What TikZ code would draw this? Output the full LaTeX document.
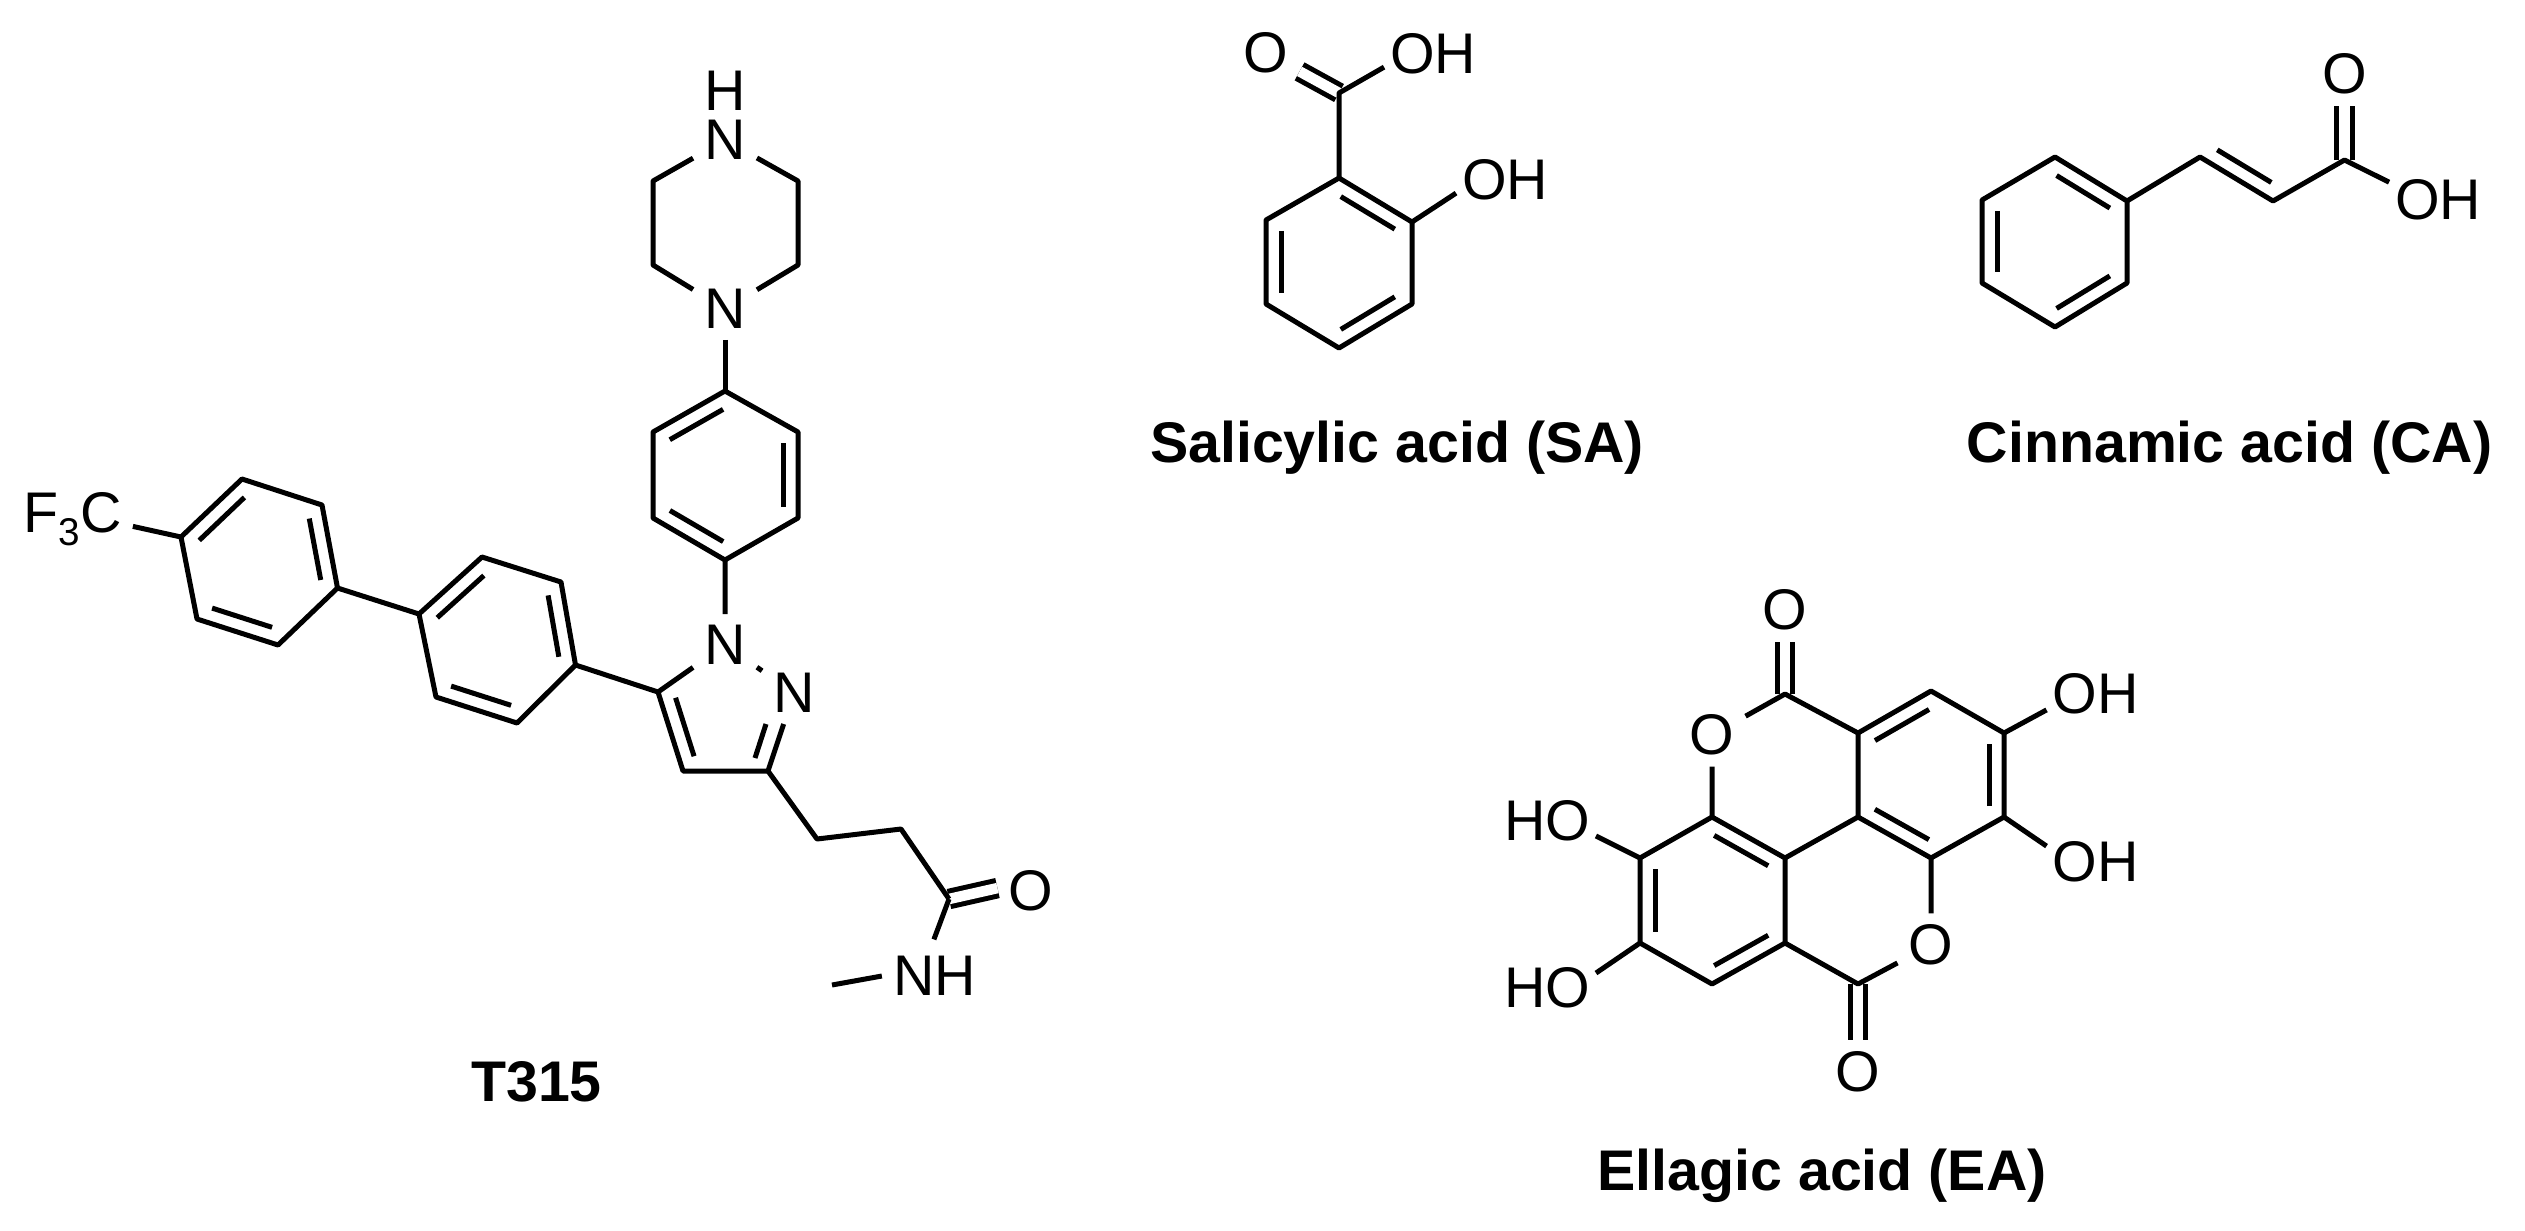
\documentclass[tikz,border=0pt]{standalone}
\usepackage{fontspec}
\setmainfont{Liberation Sans}
\usetikzlibrary{calc}
\tikzset{
    bond/.style={line width=0.05cm, line join=round},
    dbond/.style={line width=0.05cm, double, double distance=0.105cm},
    atom/.style={inner sep=3pt, font=\fontsize{16.3}{18}\selectfont},
    group/.style={atom, inner sep=1.5pt},
    caption/.style={inner sep=0pt, anchor=base, font=\fontsize{16.3}{18}\selectfont\bfseries}
}
\begin{document}
\begin{tikzpicture}[x=0.01cm, y=-0.01cm]
    \useasboundingbox (0,0) rectangle (2525,1230);
    \node[atom, inner sep=0pt] (th) at (725,91) {H};
    \node[atom, inner ysep=0pt] (tn1) at (725,140) {N};
    \node[atom] (tn2) at (725,309) {N};
    \node[atom] (tn3) at (725,645) {N};
    \node[atom] (tn4) at (794,693) {N};
    \node[atom] (to) at (1031,891) {O};
    \node[atom] (tnh) at (934.5,976) {NH};
    \node[atom, anchor=base west, xshift=-3pt] (tf) at (23,532) {F\raisebox{-0.45ex}{\fontsize{11}{12}\selectfont 3}C};
    \coordinate (tm) at (832,985);
    \coordinate (p1) at (653,181);
    \coordinate (p2) at (653,265);
    \coordinate (p3) at (798,265);
    \coordinate (p4) at (798,181);
    \coordinate (c1) at (725,391);
    \coordinate (c2) at (653,432);
    \coordinate (c3) at (653,518);
    \coordinate (c4) at (725,560);
    \coordinate (c5) at (798,518);
    \coordinate (c6) at (798,432);
    \coordinate (a1) at (242,479);
    \coordinate (a2) at (181,537);
    \coordinate (a3) at (197,619);
    \coordinate (a4) at (278,645);
    \coordinate (a5) at (337.5,588);
    \coordinate (a6) at (322,505);
    \coordinate (b1) at (482,557);
    \coordinate (b2) at (419,614);
    \coordinate (b3) at (436,697);
    \coordinate (b4) at (517,723);
    \coordinate (b5) at (575.5,665);
    \coordinate (b6) at (561,582);
    \coordinate (z1) at (658,692);
    \coordinate (z2) at (683,771);
    \coordinate (z3) at (768,771);
    \coordinate (z4) at (766,724);
    \coordinate (z5) at (755,758);
    \coordinate (e1) at (817,839);
    \coordinate (e2) at (901,829);
    \coordinate (e3) at (949,899);
    \draw[dbond] (e3) -- (to.175);
    \draw[bond] (tn1) -- (p1) -- (p2) -- (tn2) -- (p3) -- (p4) -- (tn1);
    \draw[bond] (c1) -- (c2) -- (c3) -- (c4) -- (c5) -- (c6) -- cycle;
    \draw[bond] (tn2) -- (c1);
    \draw[bond] (c4) -- (tn3) -- (z1) -- (z2) -- (z3) -- (tn4);
    \draw[bond] (tn3) -- (tn4);
    \draw[bond] (a1) -- (a2) -- (a3) -- (a4) -- (a5) -- (a6) -- cycle;
    \draw[bond] (tf.-7) -- (a2);
    \draw[bond] (b1) -- (b2) -- (b3) -- (b4) -- (b5) -- (b6) -- cycle;
    \draw[bond] (a5) -- (b2);
    \draw[bond] (b5) -- (z1);
    \draw[bond] (z3) -- (e1) -- (e2) -- (e3);
    \draw[bond, shorten >=0.06cm] (e3) -- (tnh.95);
    \draw[bond] (tm) -- (tnh.west);
    \draw[bond] (z4) -- (z5);
    \node[caption] (tt) at (536.5,1101.5) {T315};

    \node[atom] (so1) at (1266,53) {O};
    \node[group] (so2) at (1433,54) {OH};
    \node[group] (so3) at (1505,180) {OH};
    \coordinate (s0) at (1339,93);
    \coordinate (s1) at (1339,178);
    \coordinate (s2) at (1266,220);
    \coordinate (s3) at (1266,304);
    \coordinate (s4) at (1339,348);
    \coordinate (s5) at (1412,304);
    \coordinate (s6) at (1412,222);
    \draw[dbond] (s0) -- (so1);
    \draw[bond] (s1) -- (s2) -- (s3) -- (s4) -- (s5) -- (s6) -- cycle;
    \draw[bond] (s1) -- (s0) -- (so2.195);
    \draw[bond] (s6) -- (so3.195);
    \node[caption] (st) at (1397,462) {Salicylic acid (SA)};

    \node[atom] (ko1) at (2344.5,74) {O};
    \node[group] (ko2) at (2438,200) {OH};
    \coordinate (k0) at (2344.5,160);
    \coordinate (k1) at (2055,157);
    \coordinate (k2) at (1982,200);
    \coordinate (k3) at (1982,283);
    \coordinate (k4) at (2055,327);
    \coordinate (k5) at (2127,283);
    \coordinate (k6) at (2127,201);
    \coordinate (k7) at (2200,157);
    \coordinate (k8) at (2273,201);
    \draw[dbond] (k0) -- (ko1);
    \draw[bond] (k1) -- (k2) -- (k3) -- (k4) -- (k5) -- (k6) -- cycle;
    \draw[bond] (k6) -- (k7) -- (k8) -- (k0) -- (ko2.160);
    \node[caption] (kt) at (2229.5,462) {Cinnamic acid (CA)};

    \node[atom] (eo1) at (1785,610) {O};
    \node[atom] (eo2) at (1712,735) {O};
    \node[atom] (eo3) at (1931,945) {O};
    \node[atom] (eo4) at (1858,1072) {O};
    \node[group] (eh1) at (2095.5,694) {OH};
    \node[group] (eh2) at (2095.5,862) {OH};
    \node[group] (eh3) at (1547,821) {HO};
    \node[group] (eh4) at (1547,988) {HO};
    \coordinate (n1) at (1712,817);
    \coordinate (n2) at (1640,858);
    \coordinate (n3) at (1640,943);
    \coordinate (n4) at (1712,984);
    \coordinate (n5) at (1785,943);
    \coordinate (n6) at (1785,858);
    \coordinate (m1) at (1931,691);
    \coordinate (m2) at (1858,733);
    \coordinate (m3) at (1858,817);
    \coordinate (m4) at (1931,858);
    \coordinate (m5) at (2004,817);
    \coordinate (m6) at (2004,733);
    \coordinate (q1) at (1785,694);
    \coordinate (q2) at (1858,984);
    \draw[dbond] (q1) -- (eo1);
    \draw[dbond] (q2) -- (eo4);
    \draw[bond] (n1) -- (n2) -- (n3) -- (n4) -- (n5) -- (n6) -- cycle;
    \draw[bond] (m1) -- (m2) -- (m3) -- (m4) -- (m5) -- (m6) -- cycle;
    \draw[bond] (n6) -- (m3);
    \draw[bond] (n1) -- (eo2) -- (q1) -- (m2);
    \draw[bond] (m4) -- (eo3) -- (q2) -- (n5);
    \draw[bond] (m6) -- (eh1.-162);
    \draw[bond] (m5) -- (eh2.162);
    \draw[bond] (n2) -- (eh3.-17);
    \draw[bond] (n3) -- (eh4.17);
    \node[caption] (et) at (1822,1190) {Ellagic acid (EA)};

    \foreach \p/\q in {c1/c2, c3/c4, c5/c6, a1/a2, a3/a4, a5/a6, b1/b2, b3/b4, b5/b6, z1/z2, s6/s1, s2/s3, s4/s5, k6/k1, k2/k3, k4/k5, k7/k8, n6/n1, n2/n3, n4/n5, m1/m2, m3/m4, m5/m6}
        \draw[bond] ($(\p)!.13!(\q)!.15cm!90:(\q)$) -- ($(\p)!.87!(\q)!.15cm!-90:(\p)$);
\end{tikzpicture}
\end{document}
